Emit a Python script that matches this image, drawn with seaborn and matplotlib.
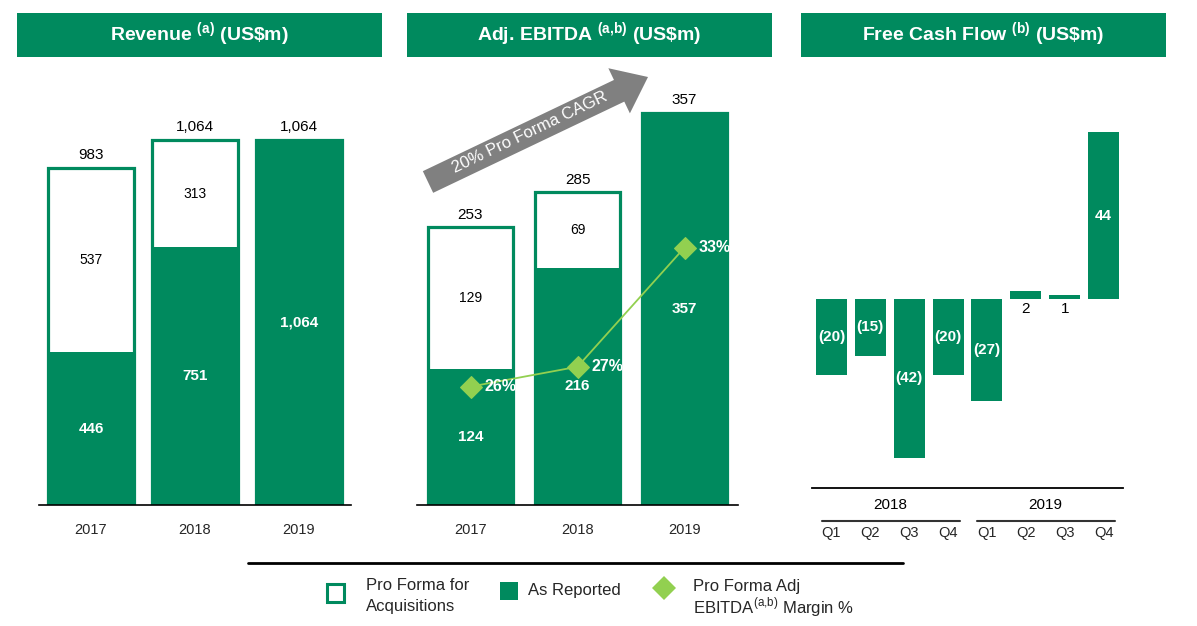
import numpy as np
import seaborn as sns
import matplotlib.pyplot as plt
from matplotlib.patches import Rectangle, FancyArrow, Polygon

sns.set_theme(style="white")
plt.rcParams['font.family'] = ['Liberation Sans', 'DejaVu Sans']
plt.rcParams['mathtext.fontset'] = 'custom'
plt.rcParams['mathtext.rm'] = 'Liberation Sans'
plt.rcParams['mathtext.bf'] = 'Liberation Sans:bold'

GREEN = '#008A5E'
LIME = '#92D050'
GREY = '#808080'

# data
years = ['2017', '2018', '2019']
rev_reported = [446, 751, 1064]
rev_acq = [537, 313, 0]
ebitda_reported = [124, 216, 357]
ebitda_acq = [129, 69, 0]
ebitda_margin = [26, 27, 33]

fcf_ids = ['2018Q1', '2018Q2', '2018Q3', '2018Q4', '2019Q1', '2019Q2', '2019Q3', '2019Q4']
fcf_quarters = ['Q1', 'Q2', 'Q3', 'Q4', 'Q1', 'Q2', 'Q3', 'Q4']
fcf_years = ['2018', '2019']
fcf_values = [-20, -15, -42, -20, -27, 2, 1, 44]

W, H = 1197, 626
fig = plt.figure(figsize=(W / 100, H / 100), dpi=100)


def px_axes(x0, y0, x1, y1):
    return fig.add_axes([x0 / W, 1 - y1 / H, (x1 - x0) / W, (y1 - y0) / H])


def fmt(v):
    return f"{v:,}"


def stacked_panel(ax, reported, acq, ytop, width):
    totals = [r + a for r, a in zip(reported, acq)]
    sns.barplot(x=years, y=totals, ax=ax, color='white', saturation=1, width=width,
                edgecolor=GREEN, linewidth=2.3, errorbar=None)
    sns.barplot(x=years, y=reported, ax=ax, color=GREEN, saturation=1, width=width,
                linewidth=0, errorbar=None)
    for i, (r, a, t) in enumerate(zip(reported, acq, totals)):
        ax.annotate(fmt(t), (i, t), xytext=(0, 4), textcoords='offset points',
                    ha='center', va='bottom', fontsize=11, color='black')
        ax.text(i, r / 2, fmt(r), ha='center', va='center', fontsize=11,
                fontweight='bold', color='white')
        if a > 0:
            ax.text(i, r + a / 2, fmt(a), ha='center', va='center', fontsize=10, color='black')
    ax.set_xlim(-0.5, len(years) - 0.5)
    ax.set_ylim(0, ytop)
    ax.set_xlabel('')
    ax.set_ylabel('')
    ax.set_yticks([])
    sns.despine(ax=ax, left=True)
    ax.spines['bottom'].set_color('black')
    ax.spines['bottom'].set_linewidth(1.2)
    ax.tick_params(axis='x', length=0, pad=13, labelsize=10.5)


# Revenue
ax1 = px_axes(39, 70, 351, 505)
stacked_panel(ax1, rev_reported, rev_acq, 435 / 0.343, 0.83)

# Adj. EBITDA
ax2 = px_axes(417, 70, 738, 505)
stacked_panel(ax2, ebitda_reported, ebitda_acq, 435 / 1.098, 0.79)
ax2b = ax2.twinx()
sns.lineplot(x=np.arange(len(years)), y=ebitda_margin, ax=ax2b, color=LIME, linewidth=1.3,
             marker='D', markersize=11, markeredgecolor=LIME)
for i, m in enumerate(ebitda_margin):
    ax2b.annotate(f"{m}%", (i, m), xytext=(10, 0), textcoords='offset points',
                  ha='left', va='center', fontsize=11.5, fontweight='bold', color='white')
ax2b.set_xlim(-0.5, len(years) - 0.5)
ax2b.set_ylim(20.04, 41.94)
ax2b.set_yticks([])
ax2b.set_ylabel('')
for s in ax2b.spines.values():
    s.set_visible(False)

# Free Cash Flow
ax3 = px_axes(812, 70, 1123, 488)
sns.barplot(x=fcf_ids, y=fcf_values, ax=ax3, color=GREEN, saturation=1, width=0.8,
            linewidth=0, errorbar=None)
for i, v in enumerate(fcf_values):
    if v < 0:
        ax3.text(i, v / 2, f"({-v})", ha='center', va='center', fontsize=11,
                 fontweight='bold', color='white')
    elif v < 10:
        ax3.annotate(str(v), (i, 0), xytext=(0, -2), textcoords='offset points',
                     ha='center', va='top', fontsize=11, color='black')
    else:
        ax3.text(i, v / 2, str(v), ha='center', va='center', fontsize=11,
                 fontweight='bold', color='white')
ax3.set_xlim(-0.5, len(fcf_ids) - 0.5)
ax3.set_ylim(-49.9, 60.4)
ax3.set_yticks([])
ax3.set_xlabel('')
ax3.set_ylabel('')
ax3.set_xticks(range(len(fcf_ids)))
ax3.set_xticklabels(fcf_quarters)
ax3.tick_params(axis='x', length=0, pad=27, labelsize=10.5)
sns.despine(ax=ax3, left=True)
ax3.spines['bottom'].set_color('black')
ax3.spines['bottom'].set_linewidth(1.3)
tr = ax3.get_xaxis_transform()
for k, yr in enumerate(fcf_years):
    c = 4 * k + 1.5
    ax3.text(c, -0.041, yr, transform=tr, ha='center', va='center', fontsize=11, color='black')
    ax3.plot([4 * k - 0.25, 4 * k + 3.3], [-0.079, -0.079], transform=tr, color='#333333',
             linewidth=1.5, clip_on=False)

# overlay in pixel coordinates for banners, arrow and legend
ov = fig.add_axes([0, 0, 1, 1])
ov.set_xlim(0, W)
ov.set_ylim(H, 0)
ov.axis('off')

titles = [r"Revenue $^{\mathbf{(a)}}$ (US\$m)",
          r"Adj. EBITDA $^{\mathbf{(a{,}b)}}$ (US\$m)",
          r"Free Cash Flow $^{\mathbf{(b)}}$ (US\$m)"]
for x0, t in zip([17, 407, 801], titles):
    ov.add_patch(Rectangle((x0, 13), 365, 44, facecolor=GREEN, edgecolor='none'))
    ov.text(x0 + 182, 35, t, ha='center', va='center', fontsize=14, fontweight='bold', color='white')

ov.add_patch(FancyArrow(428, 182, 220, -105, width=24, head_width=50, head_length=32,
                        length_includes_head=True, color=GREY, linewidth=0))
ov.text(530, 132, "20% Pro Forma CAGR", rotation=25.5, rotation_mode='anchor',
        ha='center', va='center', fontsize=12, color='white')

ov.plot([248, 903], [563, 563], color='black', linewidth=2)

ov.add_patch(Rectangle((327, 584), 17, 18, facecolor='white', edgecolor=GREEN, linewidth=2.2))
ov.text(366, 586, "Pro Forma for", ha='left', va='center', fontsize=12)
ov.text(366, 606, "Acquisitions", ha='left', va='center', fontsize=12)
ov.add_patch(Rectangle((500, 582), 18, 18, facecolor=GREEN, edgecolor='none'))
ov.text(528, 591, "As Reported", ha='left', va='center', fontsize=12)
ov.add_patch(Polygon([(664, 576), (676, 588), (664, 600), (652, 588)], closed=True,
                     facecolor=LIME, edgecolor='none'))
ov.text(693, 587, "Pro Forma Adj", ha='left', va='center', fontsize=12)
ov.text(693, 607, r"EBITDA$^{\mathrm{(a{,}b)}}$ Margin %", ha='left', va='center', fontsize=12)

fig.savefig('out.png', dpi=100)
